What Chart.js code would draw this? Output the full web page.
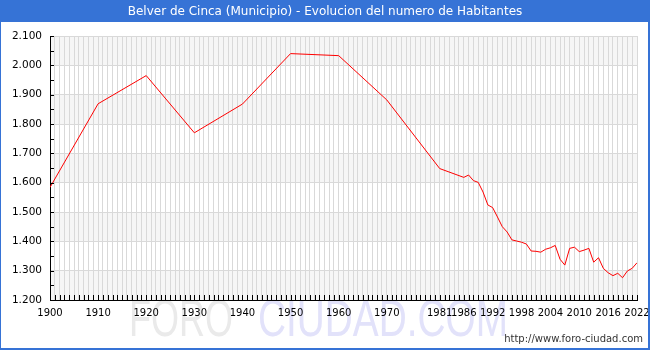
<!DOCTYPE html>
<html>
<head>
<meta charset="utf-8">
<script src="https://cdn.jsdelivr.net/npm/chart.js@4/dist/chart.umd.min.js"></script>
<style>
  html, body { margin: 0; padding: 0; background: #ffffff; }
  #wrap { position: relative; width: 650px; height: 350px; }
  canvas { display: block; }
</style>
</head>
<body>
<div id="wrap"><canvas id="c" width="650" height="350"></canvas></div>
<script>
// ---- Data ----
const years = [1900, 1910, 1920, 1930, 1940, 1950, 1960, 1970, 1981, 1986,
  1987, 1988, 1989, 1990, 1991, 1992, 1993, 1994, 1995, 1996, 1997, 1998, 1999,
  2000, 2001, 2002, 2003, 2004, 2005, 2006, 2007, 2008, 2009, 2010, 2011, 2012,
  2013, 2014, 2015, 2016, 2017, 2018, 2019, 2020, 2021, 2022];
const population = [1584, 1869, 1965, 1770, 1868, 2040, 2033, 1882, 1648, 1618,
  1626, 1607, 1601, 1568, 1524, 1515, 1483, 1450, 1432, 1405, 1401, 1397, 1391,
  1367, 1366, 1363, 1373, 1378, 1386, 1339, 1319, 1376, 1380, 1365, 1370, 1376,
  1329, 1344, 1308, 1293, 1283, 1291, 1276, 1299, 1308, 1327];
const yTickValues = [1200, 1300, 1400, 1500, 1600, 1700, 1800, 1900, 2000, 2100];
const xLabelYears = [1900, 1910, 1920, 1930, 1940, 1950, 1960, 1970, 1981, 1986,
  1992, 1998, 2004, 2010, 2016, 2022];
const titleText = 'Belver de Cinca (Municipio) - Evolucion del numero de Habitantes';
const urlText = 'http://www.foro-ciudad.com';
const watermarkParts = ['FORO', 'CIUDAD.COM'];

const fmt = v => {
  const s = String(Math.round(v));
  return s.length > 3 ? s.slice(0, -3) + '.' + s.slice(-3) : s;
};

const FONT = "'DejaVu Sans', Verdana, sans-serif";

const decorPlugin = {
  id: 'decor',
  beforeDraw(chart) {
    const ctx = chart.ctx;
    const area = chart.chartArea;
    const ys = chart.scales.y;
    ctx.save();
    ctx.fillStyle = '#ffffff';
    ctx.fillRect(0, 0, chart.width, chart.height);

    // alternating bands
    ctx.fillStyle = '#f6f6f6';
    for (let i = 0; i < yTickValues.length - 1; i += 2) {
      const yTop = ys.getPixelForValue(yTickValues[i + 1]);
      const yBot = ys.getPixelForValue(yTickValues[i]);
      ctx.fillRect(area.left, yTop, area.right - area.left, yBot - yTop);
    }

    // watermark
    ctx.textBaseline = 'alphabetic';
    ctx.font = "52px 'Liberation Sans', Arial, sans-serif";
    const targets = [[129, 104, '#eaeaea'], [258, 250, '#e2e2fa']];
    watermarkParts.forEach((t, i) => {
      const w = ctx.measureText(t).width;
      const [x0, tw, col] = targets[i];
      ctx.save();
      ctx.translate(x0, 336);
      ctx.scale(tw / w, 1);
      ctx.fillStyle = col;
      ctx.fillText(t, 0, 0);
      ctx.restore();
    });

    // title bar
    ctx.fillStyle = '#3673d6';
    ctx.fillRect(0, 0, chart.width, 22);
    ctx.fillStyle = '#ffffff';
    ctx.font = '12px ' + FONT;
    ctx.textAlign = 'center';
    ctx.textBaseline = 'middle';
    ctx.fillText(titleText, chart.width / 2, 11.5);
    ctx.restore();
  },
  afterDraw(chart) {
    const ctx = chart.ctx;
    const area = chart.chartArea;
    const xs = chart.scales.x;
    const ys = chart.scales.y;
    ctx.save();
    ctx.strokeStyle = '#000000';
    ctx.lineWidth = 1;
    ctx.beginPath();
    for (let yr = xs.min; yr <= xs.max; yr++) {
      const px = Math.round(xs.getPixelForValue(yr)) + 0.5;
      ctx.moveTo(px, area.bottom);
      ctx.lineTo(px, area.bottom - 5);
    }
    for (let v = ys.min; v <= ys.max; v += 50) {
      const py = Math.round(ys.getPixelForValue(v)) + 0.5;
      ctx.moveTo(area.left, py);
      ctx.lineTo(area.left + 4, py);
    }
    ctx.stroke();

    // url
    ctx.fillStyle = '#333333';
    ctx.font = '10px ' + FONT;
    ctx.textAlign = 'right';
    ctx.textBaseline = 'middle';
    ctx.fillText(urlText, 643, 339);

    // frame
    ctx.fillStyle = '#3673d6';
    ctx.fillRect(0, 0, 1, chart.height);
    ctx.fillRect(chart.width - 2, 0, 2, chart.height);
    ctx.fillRect(0, chart.height - 2, chart.width, 2);
    ctx.restore();
  }
};

new Chart(document.getElementById('c'), {
  type: 'line',
  data: {
    datasets: [{
      data: years.map((y, i) => ({ x: y, y: population[i] })),
      borderColor: '#ff0000',
      borderWidth: 1,
      pointRadius: 0,
      tension: 0,
      fill: false
    }]
  },
  options: {
    responsive: false,
    animation: false,
    events: [],
    layout: { padding: { left: 0, right: 13, top: 36, bottom: 0 } },
    plugins: { legend: { display: false }, tooltip: { enabled: false }, title: { display: false } },
    scales: {
      x: {
        type: 'linear',
        min: 1900,
        max: 2022,
        afterFit(scale) { scale.height = 50; scale.paddingLeft = 0; scale.paddingRight = 0; },
        grid: { color: '#d9d9d9', lineWidth: 1, drawTicks: false },
        border: { display: true, color: '#000000', width: 1 },
        ticks: {
          stepSize: 1,
          autoSkip: false,
          maxRotation: 0,
          minRotation: 0,
          padding: 7,
          color: '#000000',
          font: { family: FONT, size: 10 },
          callback: v => xLabelYears.includes(v) ? String(v) : ''
        }
      },
      y: {
        min: 1200,
        max: 2100,
        afterFit(scale) { scale.width = 50; scale.paddingTop = 0; scale.paddingBottom = 0; },
        afterBuildTicks(scale) { scale.ticks = yTickValues.map(v => ({ value: v })); },
        grid: { color: '#d9d9d9', lineWidth: 1, drawTicks: false },
        border: { display: true, color: '#000000', width: 1 },
        ticks: {
          padding: 8,
          color: '#000000',
          font: { family: FONT, size: 10.5 },
          callback: v => fmt(v)
        }
      }
    }
  },
  plugins: [decorPlugin]
});
</script>
</body>
</html>
